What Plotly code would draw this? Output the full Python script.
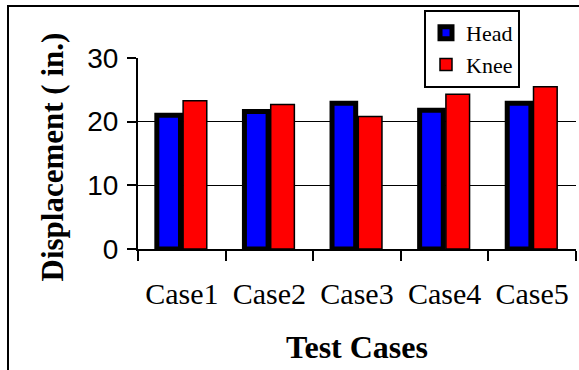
import plotly.graph_objects as go

# Test case labels and measured displacements (inches)
cases = ["Case1", "Case2", "Case3", "Case4", "Case5"]
head = [21.0, 21.6, 22.9, 21.8, 22.9]
knee = [23.3, 22.7, 20.8, 24.3, 25.5]
y_ticks = [0, 10, 20, 30]

W, H = 579, 370
L, R, T, B = 138, 3, 58, 121
pw, ph = W - L - R, H - T - B

def px_x(p):
    return (p - L) / pw

def px_y(p):
    return (H - B - p) / ph

fig = go.Figure()
fig.add_trace(go.Bar(
    name="Head", x=cases, y=head,
    marker=dict(color="#0000FF", line=dict(color="black", width=5)),
))
fig.add_trace(go.Bar(
    name="Knee", x=cases, y=knee,
    marker=dict(color="#FF0000", line=dict(color="black", width=1.5)),
))

serif = "Liberation Serif, Times New Roman, serif"
sans = "Liberation Sans, Arial, sans-serif"

fig.update_layout(
    width=W, height=H,
    margin=dict(l=L, r=R, t=T, b=B, pad=0),
    paper_bgcolor="white", plot_bgcolor="white",
    barmode="group", bargap=0.4, bargroupgap=0.1,
    showlegend=True,
    legend=dict(
        x=px_x(520), y=px_y(10), xanchor="right", yanchor="top",
        bgcolor="white", bordercolor="black", borderwidth=2,
        font=dict(family=serif, size=22, color="black"),
        itemwidth=30,
    ),
    xaxis=dict(
        showline=True, linecolor="black", linewidth=2,
        ticks="outside", ticklen=10, tickwidth=2, tickcolor="black",
        tickson="boundaries", showgrid=False,
        tickfont=dict(family=serif, size=30, color="black"),
        ticklabelstandoff=17,
        title=dict(text="<b>Test Cases</b>", standoff=27,
                   font=dict(family=serif, size=32, color="black")),
    ),
    yaxis=dict(
        range=[0, 30], tickvals=y_ticks,
        showline=True, linecolor="black", linewidth=2,
        ticks="outside", ticklen=9, tickwidth=2, tickcolor="black",
        showgrid=True, gridcolor="black", gridwidth=1.3,
        zeroline=False,
        tickfont=dict(family=sans, size=28, color="black"),
        ticklabelstandoff=3,
    ),
    annotations=[dict(
        text="<b>Displacement ( in.)</b>", textangle=-90,
        xref="paper", yref="paper", x=px_x(52), y=px_y(157.5),
        xanchor="center", yanchor="middle", showarrow=False,
        font=dict(family=serif, size=31, color="black"),
    )],
    shapes=[dict(
        type="rect", xref="paper", yref="paper", layer="below",
        x0=px_x(8), x1=px_x(W + 20), y0=px_y(H + 20), y1=px_y(6),
        line=dict(color="black", width=2), fillcolor="rgba(0,0,0,0)",
    )],
)

fig.write_html("out.html")
